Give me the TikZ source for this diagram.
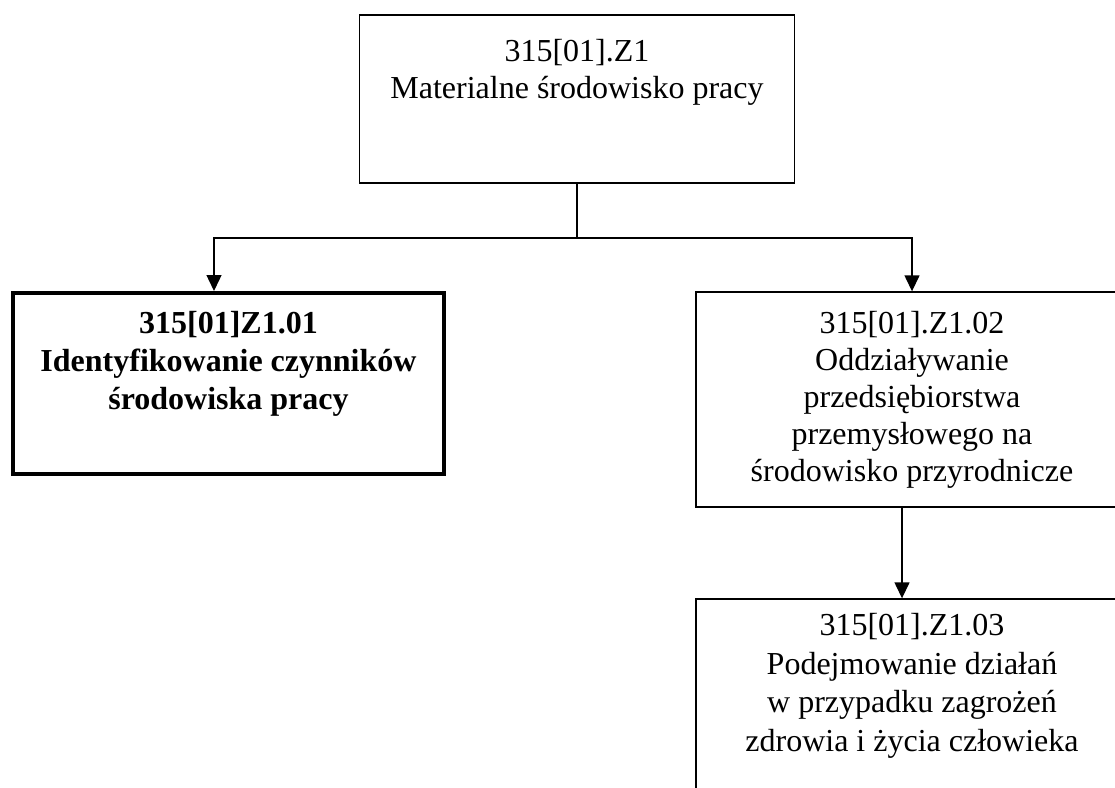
\documentclass[tikz,border=0pt]{standalone}
\usepackage{fontspec}
\setmainfont{Liberation Serif}
\usetikzlibrary{positioning}
\usetikzlibrary{arrows.meta}

\begin{document}
\begin{tikzpicture}[x=1pt,y=-1pt,
    box/.style={rectangle,draw,line width=1.4pt,inner sep=0pt},
    txt/.style={align=center,inner sep=0pt,font=\fontsize{32}{37}\selectfont},
    arr/.style={line width=1.4pt,arrows = -{Triangle[length=16pt,width=15pt]}}]

            \useasboundingbox (0,0) rectangle (1115,787);
            \clip (0,0) rectangle (1115,787);

            \path   (577,99) node (a) [box,minimum width=435pt,minimum height=168pt] {}
                    (228.5,383.5) node (b) [box,line width=4pt,minimum width=431pt,minimum height=181pt] {}
                    (912,399.5) node (c) [box,minimum width=432pt,minimum height=215pt] {}
                    (912,710) node (d) [box,minimum width=432pt,minimum height=222pt] {};

            \node (at) [txt,below=25pt of a.north] {315[01].Z1\\Materialne środowisko pracy};
            \node (bt) [txt,font=\fontsize{32}{38}\selectfont\bfseries,below=20pt of b.north] {315[01]Z1.01\\Identyfikowanie czynników\\środowiska pracy};
            \node (ct) [txt,below=20pt of c.north] {315[01].Z1.02\\Oddziaływanie\\przedsiębiorstwa\\przemysłowego na\\środowisko przyrodnicze};
            \node (dt) [txt,font=\fontsize{32}{38.5}\selectfont,below=15pt of d.north] {315[01].Z1.03\\Podejmowanie działań\\w przypadku zagrożeń\\zdrowia i życia człowieka};

            %\draw [help lines] (0,0) grid (1115,787);
            \coordinate (j) at (577,238);
            \draw[line width=1.4pt] (a.south) -- (j);
            \draw[arr] (j) -| ([xshift=-14.5pt]b.north);
            \draw[arr] (j) -| (c.north);
            \draw[arr] ([xshift=-10pt]c.south) -- ([xshift=-10pt]d.north);
\end{tikzpicture}
\end{document}
